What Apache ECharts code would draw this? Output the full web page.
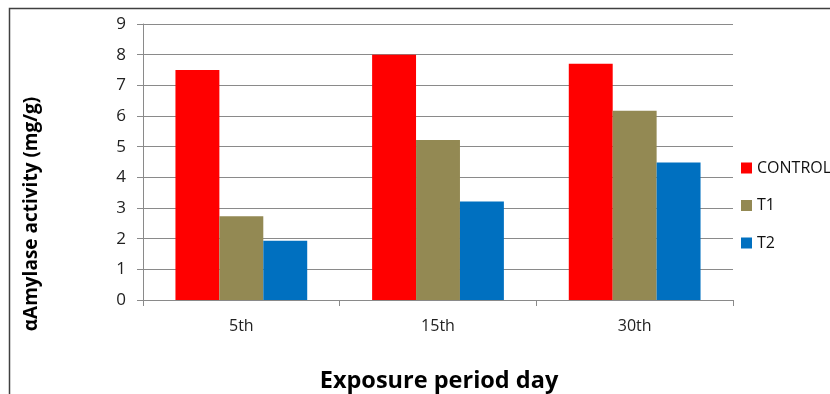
<!DOCTYPE html>
<html>
<head>
<meta charset="utf-8">
<script src="https://cdn.jsdelivr.net/npm/echarts@6/dist/echarts.min.js"></script>
<style>
  html, body { margin: 0; padding: 0; background: #fff; }
  #chart { width: 830px; height: 394px; }
</style>
</head>
<body>
<div id="chart"></div>
<script>
// Exposure days on the x axis
const categories = ['5th', '15th', '30th'];

// α-amylase activity (mg/g) per group
const controlValues = [7.5, 8.0, 7.7];
const t1Values = [2.73, 5.22, 6.17];
const t2Values = [1.93, 3.21, 4.48];

const seriesNames = ['CONTROL', 'T1', 'T2'];
const seriesColors = ['#FF0000', '#938953', '#0070C0'];

const yTitle = 'αAmylase activity (mg/g)';
const xTitle = 'Exposure period day';

const FONT = '"Open Sans", "Liberation Sans", sans-serif';

const chart = echarts.init(document.getElementById('chart'), null, { renderer: 'canvas' });

const values = [controlValues, t1Values, t2Values];

chart.setOption({
  animation: false,
  backgroundColor: '#ffffff',
  grid: { left: 143, right: 97, top: 24, bottom: 94, containLabel: false },
  legend: {
    orient: 'vertical',
    left: 741,
    top: 159,
    padding: 0,
    itemWidth: 11,
    itemHeight: 11,
    itemGap: 19.5,
    icon: 'rect',
    textStyle: { fontFamily: FONT, fontSize: 16, lineHeight: 18, color: '#111' },
    data: seriesNames
  },
  xAxis: {
    type: 'category',
    data: categories,
    axisLine: { lineStyle: { color: '#8a8a8a', width: 1 } },
    axisTick: { show: true, interval: 0, alignWithLabel: false, length: 6, lineStyle: { color: '#8a8a8a' } },
    axisLabel: { fontFamily: FONT, fontSize: 16, color: '#222', margin: 18 },
    splitLine: { show: false }
  },
  yAxis: {
    type: 'value',
    min: 0,
    max: 9,
    interval: 1,
    axisLine: { show: true, lineStyle: { color: '#8a8a8a', width: 1 } },
    axisTick: { show: true, length: 6, lineStyle: { color: '#8a8a8a' } },
    axisLabel: { fontFamily: FONT, fontSize: 17, color: '#222', margin: 17 },
    splitLine: { show: true, lineStyle: { color: '#8a8a8a', width: 1 } }
  },
  series: seriesNames.map((name, i) => ({
    name: name,
    type: 'bar',
    data: values[i],
    barGap: '0%',
    barCategoryGap: '33%',
    itemStyle: { color: seriesColors[i] }
  })),
  graphic: [
    {
      type: 'polyline',
      silent: true,
      shape: { points: [[9.5, 400], [9.5, 8.5], [830, 8.5]] },
      style: { stroke: '#404040', lineWidth: 1.5, fill: null }
    },
    {
      type: 'text',
      x: 32,
      y: 214,
      rotation: Math.PI / 2,
      style: {
        text: yTitle,
        fontFamily: FONT,
        fontSize: 19,
        fontWeight: 'bold',
        fill: '#000',
        align: 'center',
        verticalAlign: 'middle'
      }
    },
    {
      type: 'text',
      x: 439,
      y: 381,
      style: {
        text: xTitle,
        fontFamily: FONT,
        fontSize: 23.5,
        fontWeight: 'bold',
        fill: '#000',
        align: 'center',
        verticalAlign: 'middle'
      }
    }
  ]
});
</script>
</body>
</html>
